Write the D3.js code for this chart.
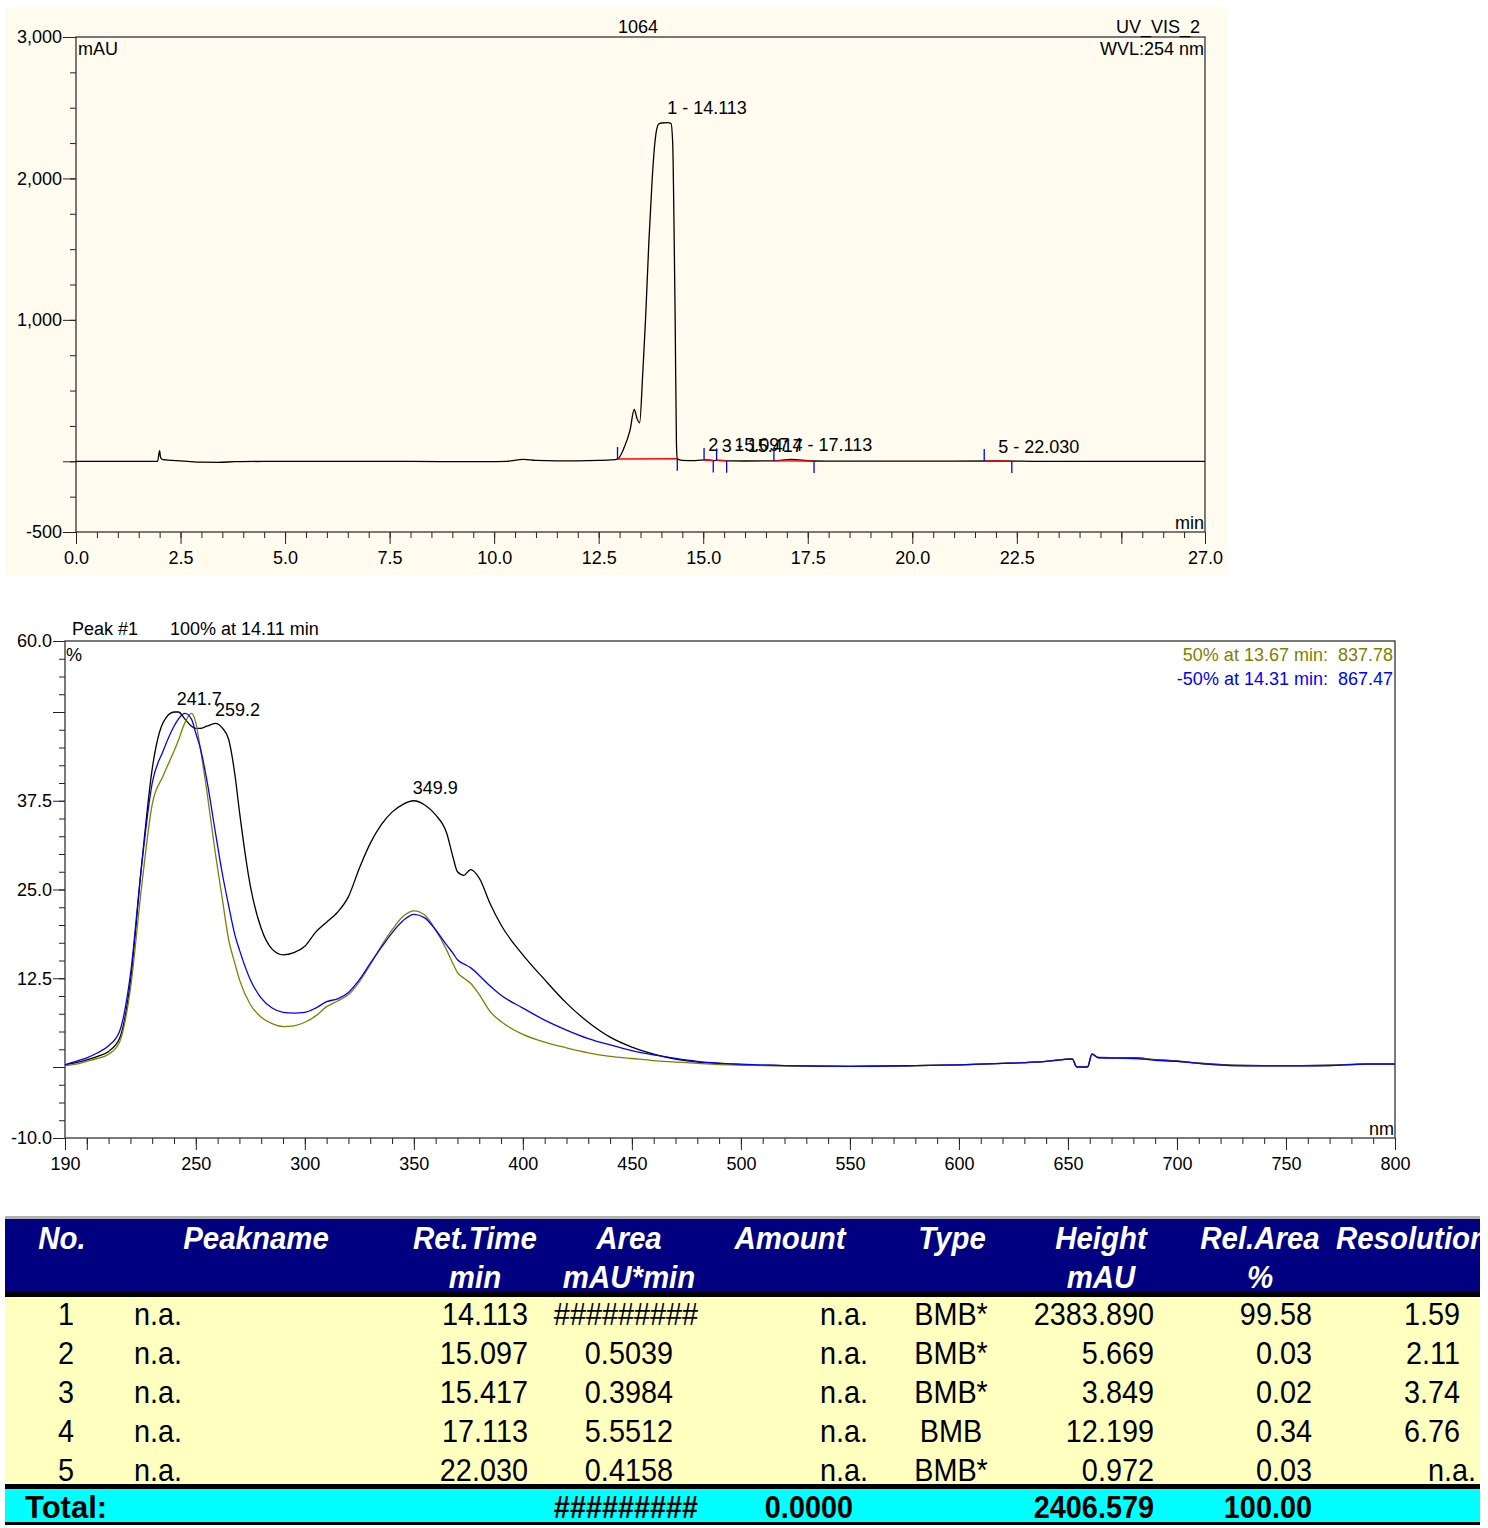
<!DOCTYPE html>
<html>
<head>
<meta charset="utf-8">
<script src="https://cdn.jsdelivr.net/npm/d3@7"></script>
<style>
  body { margin: 0; background: white; }
  svg { display: block; font-family: "Liberation Sans", Arial, sans-serif; }
</style>
</head>
<body>
<svg id="chart" width="1488" height="1528"></svg>
<script>
// chromatogram trace (min, mAU)
const chromTime = [0, 1.95, 2.0, 2.02, 2.06, 2.15, 2.3, 2.6, 3.0, 3.4, 3.8, 4.5, 6, 8, 9.3, 9.8, 10.3, 10.7, 11.0, 11.5,
  12.0, 12.5, 12.8, 12.95, 13.1, 13.25, 13.35, 13.42, 13.48, 13.55, 13.62, 13.7, 13.78, 13.85, 13.93, 14.0, 14.15,
  14.23, 14.27, 14.3, 14.33, 14.36, 14.38, 14.42, 14.5, 14.8, 15.1, 15.25, 15.4, 15.6, 16.0, 16.7, 17.1, 17.6, 18.5, 20,
  22.0, 23, 25, 27];
const chromSignal = [0, 0, 75, 30, 14, 10, 6, 1, -6, -7, -3, -1, 0, 0, -3, -3, 0, 14, 6, 3,
  3, 6, 10, 16, 90, 220, 366, 300, 272, 600, 1000, 1550, 2000, 2270, 2383, 2392, 2394,
  2388, 2250, 1700, 978, 120, 18, 12, 7, 5, 10, 5, 7, 3, 2, 3, 14, 2, 1, 1,
  2, 0, 0, 0];

// integrated peaks
const peakNo = [1, 2, 3, 4, 5];
const peakName = ["n.a.", "n.a.", "n.a.", "n.a.", "n.a."];
const peakRT = [14.113, 15.097, 15.417, 17.113, 22.030];
const peakStart = [12.95, 15.02, 15.32, 16.69, 21.72];
const peakEnd = [14.38, 15.24, 15.56, 17.65, 22.38];
const peakArea = ["#########", "0.5039", "0.3984", "5.5512", "0.4158"];
const peakAmount = ["n.a.", "n.a.", "n.a.", "n.a.", "n.a."];
const peakType = ["BMB*", "BMB*", "BMB*", "BMB", "BMB*"];
const peakHeight = [2383.890, 5.669, 3.849, 12.199, 0.972];
const peakRelArea = ["99.58", "0.03", "0.02", "0.34", "0.03"];
const peakResolution = ["1.59", "2.11", "3.74", "6.76", "n.a."];
const totalRow = { area: "#########", amount: "0.0000", height: "2406.579", relArea: "100.00" };

// spectra of peak #1 (nm, %)
const wavelength = [190, 195, 200, 205, 210, 215, 220, 225, 230, 235, 240, 242, 245, 248, 250, 252, 255, 259, 262, 265,
  268, 270, 275, 280, 285, 290, 295, 300, 305, 310, 315, 320, 325, 330, 335, 340, 345, 350, 355, 360,
  365, 368, 370, 373, 376, 380, 385, 390, 400, 410, 420, 430, 440, 450, 460, 470, 480, 490, 500, 520,
  550, 580, 600, 620, 640, 652, 654, 659, 661, 664, 680, 690, 700, 710, 725, 740, 757, 770, 787, 800];
const apexSpectrum = [0.3, 0.6, 1.0, 1.5, 2.2, 4.0, 12, 28, 42, 48.5, 50.0, 50.0, 49.0, 48.0, 47.7, 47.7, 48.0, 48.4, 47.8, 46.2,
  41.0, 36.0, 25.5, 19.5, 16.6, 15.8, 16.1, 17.0, 19.0, 20.4, 21.8, 24.0, 28.0, 31.5, 34.1, 35.9, 37.0, 37.5, 36.9, 35.5,
  33.0, 29.5, 27.5, 27.0, 27.8, 26.6, 23.0, 20.0, 15.8, 12.3, 9.0, 6.3, 4.2, 2.8, 1.8, 1.1, 0.7, 0.5, 0.3, 0.2,
  0.1, 0.2, 0.3, 0.5, 0.8, 1.15, 0.05, 0.05, 1.85, 1.35, 1.3, 1.05, 0.85, 0.55, 0.25, 0.2, 0.2, 0.25, 0.45, 0.45];
const upSpectrum = [0.2, 0.4, 0.8, 1.2, 1.8, 3.5, 11, 25, 37, 41, 44.5, 46, 48.5, 49.8, 48.5, 45, 39, 30, 24, 18,
  14.5, 12.3, 8.8, 7.0, 6.1, 5.7, 5.8, 6.3, 7.2, 8.5, 9.3, 10.2, 12.0, 14.4, 17.0, 19.3, 21.2, 22.0, 21.4, 19.3,
  16.5, 14.5, 13.3, 12.5, 11.8, 10.2, 7.8, 6.4, 4.6, 3.5, 2.7, 2.0, 1.5, 1.2, 0.9, 0.7, 0.5, 0.35, 0.25, 0.15,
  0.1, 0.2, 0.3, 0.5, 0.8, 1.1, 0.0, 0.0, 1.8, 1.3, 1.25, 1.0, 0.8, 0.5, 0.2, 0.15, 0.15, 0.2, 0.4, 0.4];
const downSpectrum = [0.3, 0.8, 1.3, 2.0, 3.0, 5.0, 13, 28, 40, 44.5, 48, 49, 49.8, 49.0, 47, 45, 40.5, 33, 27.5, 22.8,
  18.5, 16.5, 12.3, 9.7, 8.3, 7.7, 7.6, 7.7, 8.3, 9.2, 9.6, 10.5, 12.3, 14.6, 16.8, 18.9, 20.6, 21.5, 21.0, 19.3,
  17.2, 16.0, 15.1, 14.5, 14.0, 12.9, 11.4, 10.1, 8.3, 6.6, 5.2, 4.0, 3.1, 2.3, 1.7, 1.2, 0.8, 0.55, 0.4, 0.2,
  0.1, 0.2, 0.3, 0.5, 0.8, 1.1, 0.0, 0.0, 1.8, 1.3, 1.2, 0.95, 0.8, 0.5, 0.2, 0.15, 0.15, 0.2, 0.4, 0.4];
const spectrumPeaks = [241.7, 259.2, 349.9];
const spectrumPeakValues = [50.0, 48.4, 37.5];

const svg = d3.select("#chart");
const FONT = 18;
const fmtMinus = (f) => (d) => f(d).replace("\u2212", "-");

svg.append("rect").attr("width", 1488).attr("height", 1528).attr("fill", "white");

// ---------- chromatogram ----------
const chromBox = { left: 76, right: 1205, top: 37, bottom: 532 };
svg.append("rect")
  .attr("x", 5).attr("y", 7).attr("width", 1223).attr("height", 568)
  .attr("fill", "#fffbef");

const xT = d3.scaleLinear().domain([0, 27]).range([chromBox.left, chromBox.right]);
const yT = d3.scaleLinear().domain([-500, 3000]).range([chromBox.bottom, chromBox.top]);

const gTop = svg.append("g");

function styleAxis(g) {
  g.select(".domain").remove();
  g.selectAll("line").attr("stroke", "#222");
  g.selectAll("text").attr("font-size", FONT).attr("font-family", "Liberation Sans, Arial, sans-serif").attr("fill", "#000");
}

// minor + major ticks, y
gTop.append("g").attr("transform", `translate(${chromBox.left},0)`)
  .call(d3.axisLeft(yT).tickValues(d3.range(-500, 3001, 250)).tickSize(6).tickFormat(""))
  .call(styleAxis);
gTop.append("g").attr("transform", `translate(${chromBox.left},0)`)
  .call(d3.axisLeft(yT).tickValues([-500, 0, 1000, 2000, 3000]).tickSize(13).tickPadding(1)
    .tickFormat((d) => (d === 0 ? "" : fmtMinus(d3.format(","))(d))))
  .call(styleAxis);
// x ticks
gTop.append("g").attr("transform", `translate(0,${chromBox.bottom})`)
  .call(d3.axisBottom(xT).tickValues(d3.range(0, 27.01, 0.5)).tickSize(6).tickFormat(""))
  .call(styleAxis);
gTop.append("g").attr("transform", `translate(0,${chromBox.bottom})`)
  .call(d3.axisBottom(xT).tickValues([0, 2.5, 5, 7.5, 10, 12.5, 15, 17.5, 20, 22.5, 25, 27]).tickSize(12).tickPadding(7)
    .tickFormat((d) => (d === 25 ? "" : d3.format(".1f")(d))))
  .call(styleAxis);

gTop.append("rect")
  .attr("x", chromBox.left).attr("y", chromBox.top)
  .attr("width", chromBox.right - chromBox.left).attr("height", chromBox.bottom - chromBox.top)
  .attr("fill", "none").attr("stroke", "#333").attr("stroke-width", 1.3);

const chromData = chromTime.map((t, i) => [t, chromSignal[i]]);
const bis = d3.bisector((d) => d[0]).left;
function signalAt(t) {
  const i = Math.max(1, Math.min(chromData.length - 1, bis(chromData, t)));
  const a = chromData[i - 1], b = chromData[i];
  return a[1] + (b[1] - a[1]) * (t - a[0]) / (b[0] - a[0]);
}

gTop.append("path")
  .datum(chromData)
  .attr("fill", "none").attr("stroke", "#000").attr("stroke-width", 1.3)
  .attr("d", d3.line().x((d) => xT(d[0])).y((d) => yT(d[1])).curve(d3.curveMonotoneX));

// integration baselines and delimiters
peakNo.forEach((n, i) => {
  const s = peakStart[i], e = peakEnd[i];
  const ys = yT(signalAt(s)), ye = yT(signalAt(e));
  gTop.append("line").attr("x1", xT(s)).attr("y1", ys).attr("x2", xT(e)).attr("y2", ye)
    .attr("stroke", "#ff0000").attr("stroke-width", 1.3);
  gTop.append("line").attr("x1", xT(s)).attr("x2", xT(s)).attr("y1", ys - 12).attr("y2", ys)
    .attr("stroke", "#0000ff").attr("stroke-width", 1.3);
  gTop.append("line").attr("x1", xT(e)).attr("x2", xT(e)).attr("y1", ye).attr("y2", ye + 12)
    .attr("stroke", "#0000ff").attr("stroke-width", 1.3);
  const base = (signalAt(s) + signalAt(e)) / 2;
  gTop.append("text")
    .attr("x", xT(peakRT[i]) + 1).attr("y", yT(peakHeight[i] + base) - 8)
    .attr("font-size", FONT).attr("fill", "#000")
    .text(`${n} - ${peakRT[i].toFixed(3)}`);
});

gTop.append("text").attr("x", 638).attr("y", 33).attr("text-anchor", "middle").attr("font-size", FONT).text("1064");
gTop.append("text").attr("x", 1200).attr("y", 33).attr("text-anchor", "end").attr("font-size", FONT).text("UV_VIS_2");
gTop.append("text").attr("x", 1204).attr("y", 55).attr("text-anchor", "end").attr("font-size", FONT).text("WVL:254 nm");
gTop.append("text").attr("x", 78).attr("y", 55).attr("font-size", FONT).text("mAU");
gTop.append("text").attr("x", 1204).attr("y", 529).attr("text-anchor", "end").attr("font-size", FONT).text("min");

// ---------- spectra ----------
const specBox = { left: 65, right: 1395, top: 641, bottom: 1138 };
const xS = d3.scaleLinear().domain([190, 800]).range([specBox.left, specBox.right]);
const yS = d3.scaleLinear().domain([-10, 60]).range([specBox.bottom, specBox.top]);
const gBot = svg.append("g");

gBot.append("g").attr("transform", `translate(${specBox.left},0)`)
  .call(d3.axisLeft(yS).tickValues(d3.range(-10, 60.01, 2.5)).tickSize(6).tickFormat(""))
  .call(styleAxis);
gBot.append("g").attr("transform", `translate(${specBox.left},0)`)
  .call(d3.axisLeft(yS).tickValues([-10, 0, 12.5, 25, 37.5, 50, 60]).tickSize(12).tickPadding(1)
    .tickFormat((d) => (d === 0 || d === 50 ? "" : fmtMinus(d3.format(".1f"))(d))))
  .call(styleAxis);
gBot.append("g").attr("transform", `translate(0,${specBox.bottom})`)
  .call(d3.axisBottom(xS).tickValues(d3.range(190, 801, 10)).tickSize(6).tickFormat(""))
  .call(styleAxis);
gBot.append("g").attr("transform", `translate(0,${specBox.bottom})`)
  .call(d3.axisBottom(xS).tickValues([190, 200].concat(d3.range(250, 801, 50))).tickSize(12).tickPadding(7)
    .tickFormat((d) => (d === 200 ? "" : d)))
  .call(styleAxis);

gBot.append("rect")
  .attr("x", specBox.left).attr("y", specBox.top)
  .attr("width", specBox.right - specBox.left).attr("height", specBox.bottom - specBox.top)
  .attr("fill", "none").attr("stroke", "#333").attr("stroke-width", 1.3);

const specLine = d3.line().x((d) => xS(d[0])).y((d) => yS(d[1])).curve(d3.curveMonotoneX);
const spectra = [
  { values: apexSpectrum, color: "#000000" },
  { values: upSpectrum, color: "#808000" },
  { values: downSpectrum, color: "#0000ff" },
];
gBot.selectAll("path.spec")
  .data(spectra)
  .join("path")
  .attr("class", "spec")
  .attr("fill", "none")
  .attr("stroke", (d) => d.color)
  .attr("stroke-width", 1.3)
  .attr("d", (d) => specLine(wavelength.map((w, i) => [w, d.values[i]])));

gBot.selectAll("text.lam")
  .data(spectrumPeaks)
  .join("text")
  .attr("class", "lam")
  .attr("x", (d) => xS(d) - 1)
  .attr("y", (d, i) => yS(spectrumPeakValues[i]) - 7)
  .attr("font-size", FONT)
  .text((d) => d.toFixed(1));

gBot.append("text").attr("x", 72).attr("y", 635).attr("font-size", FONT).text("Peak #1");
gBot.append("text").attr("x", 170).attr("y", 635).attr("font-size", FONT).text("100% at 14.11 min");
gBot.append("text").attr("x", 66).attr("y", 661).attr("font-size", FONT).text("%");
gBot.append("text").attr("x", 1394).attr("y", 1135).attr("text-anchor", "end").attr("font-size", FONT).text("nm");
gBot.append("text").attr("x", 1393).attr("y", 661).attr("text-anchor", "end").attr("font-size", FONT)
  .attr("fill", "#808000").attr("xml:space", "preserve").text("50% at 13.67 min:  837.78");
gBot.append("text").attr("x", 1393).attr("y", 685).attr("text-anchor", "end").attr("font-size", FONT)
  .attr("fill", "#0000ff").attr("xml:space", "preserve").text("-50% at 14.31 min:  867.47");

// ---------- peak table ----------
const tab = { left: 5, right: 1480 };
const clip = svg.append("defs").append("clipPath").attr("id", "tabclip");
clip.append("rect").attr("x", tab.left).attr("y", 1200).attr("width", tab.right - tab.left).attr("height", 328);
const gTab = svg.append("g").attr("clip-path", "url(#tabclip)");

gTab.append("rect").attr("x", tab.left).attr("y", 1216).attr("width", tab.right - tab.left).attr("height", 3).attr("fill", "#b0b0b0");
gTab.append("rect").attr("x", tab.left).attr("y", 1219).attr("width", tab.right - tab.left).attr("height", 73).attr("fill", "#000080");
gTab.append("rect").attr("x", tab.left).attr("y", 1292).attr("width", tab.right - tab.left).attr("height", 5).attr("fill", "#000");
gTab.append("rect").attr("x", tab.left).attr("y", 1297).attr("width", tab.right - tab.left).attr("height", 187).attr("fill", "#ffffc0");
gTab.append("rect").attr("x", tab.left).attr("y", 1484).attr("width", tab.right - tab.left).attr("height", 5).attr("fill", "#000");
gTab.append("rect").attr("x", tab.left).attr("y", 1489).attr("width", tab.right - tab.left).attr("height", 33).attr("fill", "#00ffff");
gTab.append("rect").attr("x", tab.left).attr("y", 1522).attr("width", tab.right - tab.left).attr("height", 3).attr("fill", "#000");

const TFS = 31;
function cell(x, y, str, anchor, opts = {}) {
  const sx = opts.sx || 0.93;
  return gTab.append("text")
    .attr("transform", `translate(${x},${y}) scale(${sx},1)`)
    .attr("text-anchor", anchor)
    .attr("font-size", TFS)
    .attr("font-weight", opts.bold ? "bold" : "normal")
    .attr("font-style", opts.italic ? "italic" : "normal")
    .attr("fill", opts.color || "#000")
    .text(str);
}

const headTop = ["No.", "Peakname", "Ret.Time", "Area", "Amount", "Type", "Height", "Rel.Area", "Resolution"];
const headUnit = ["", "", "min", "mAU*min", "", "", "mAU", "%", ""];
const headX = [62, 256, 475, 629, 790, 952, 1101, 1260, 1412];
const headStyle = { bold: true, italic: true, color: "#fff", sx: 0.95 };
headTop.forEach((h, i) => cell(headX[i], 1249, h, "middle", headStyle));
headUnit.forEach((h, i) => h && cell(headX[i], 1288, h, "middle", headStyle));

const rowY = d3.scaleBand().domain(peakNo).range([1295, 1489]);
peakNo.forEach((n, i) => {
  const y = rowY(n) + rowY.bandwidth() / 2 + 11;
  cell(66, y, n, "middle");
  cell(134, y, peakName[i], "start");
  cell(528, y, peakRT[i].toFixed(3), "end");
  if (peakArea[i].startsWith("#")) cell(626, y, peakArea[i], "middle");
  else cell(673, y, peakArea[i], "end");
  cell(868, y, peakAmount[i], "end");
  cell(951, y, peakType[i], "middle");
  cell(1154, y, peakHeight[i].toFixed(3), "end");
  cell(1312, y, peakRelArea[i], "end");
  cell(peakResolution[i] === "n.a." ? 1476 : 1460, y, peakResolution[i], "end");
});

const totY = 1518;
cell(25, totY, "Total:", "start", { bold: true, sx: 1.0 });
cell(626, totY, totalRow.area, "middle", { bold: true });
cell(853, totY, totalRow.amount, "end", { bold: true });
cell(1154, totY, totalRow.height, "end", { bold: true });
cell(1312, totY, totalRow.relArea, "end", { bold: true });
</script>
</body>
</html>
